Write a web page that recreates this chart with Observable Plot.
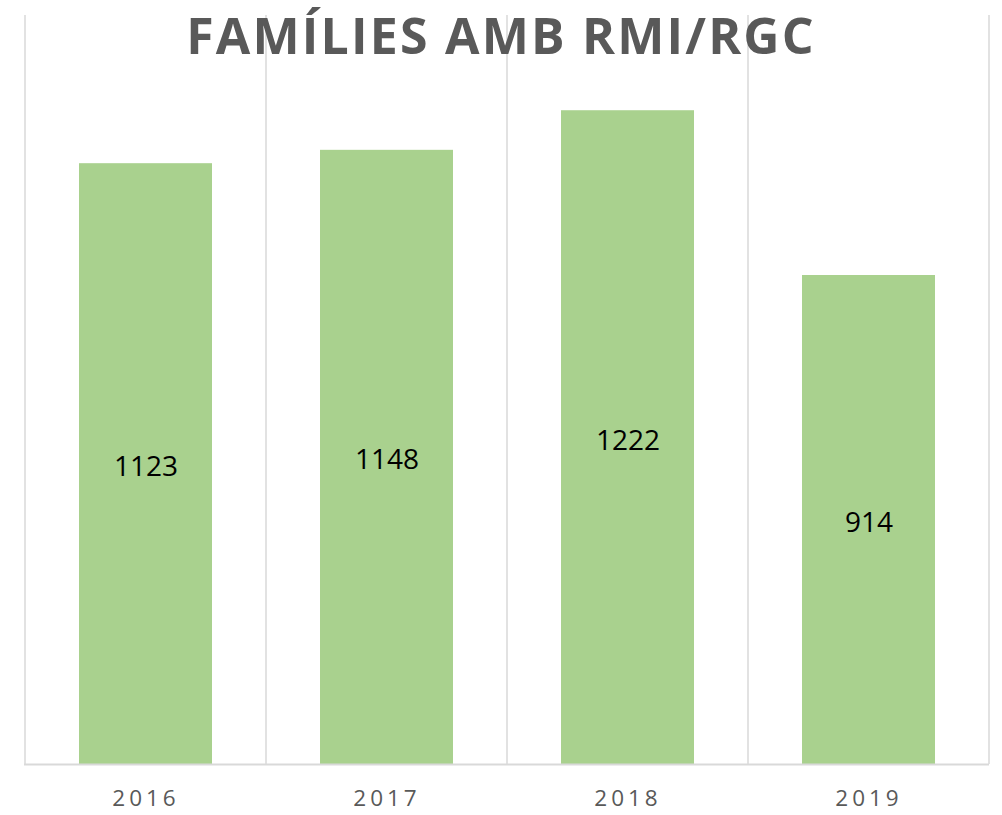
<!DOCTYPE html>
<html>
<head>
<meta charset="utf-8">
<script src="https://cdn.jsdelivr.net/npm/d3@7"></script>
<script src="https://cdn.jsdelivr.net/npm/@observablehq/plot@0.6"></script>
<style>
  html, body { margin: 0; padding: 0; background: #fff; }
  #wrap { position: relative; width: 1002px; height: 815px; overflow: hidden; }
  #title {
    position: absolute; left: 0; top: 5px; width: 1002px; text-align: center;
    font-family: "Open Sans", sans-serif; font-weight: 700; font-size: 50px;
    letter-spacing: 2.2px; color: #595959; line-height: 60px; z-index: 2;
  }
  #chart { position: absolute; left: 0; top: 0; }
</style>
</head>
<body>
<div id="wrap">
  <div id="chart"></div>
  <div id="title">FAMÍLIES AMB RMI/RGC</div>
</div>
<script>
const years = ["2016", "2017", "2018", "2019"];
const families = [1123, 1148, 1222, 914];
const data = years.map((year, i) => ({ year, value: families[i] }));

// vertical category separators drawn from the band scale
const separators = (index, scales, values, dims) => {
  const x = scales.x;
  const step = x.step ? x.step() : (dims.width - dims.marginLeft - dims.marginRight) / years.length;
  const g = d3.create("svg:g");
  const domain = x.domain();
  const edges = domain.map(d => x(d) - (step - x.bandwidth()) / 2);
  edges.push(edges[edges.length - 1] + step);
  for (const e of edges) {
    g.append("line")
      .attr("x1", e).attr("x2", e)
      .attr("y1", dims.marginTop).attr("y2", dims.height - dims.marginBottom)
      .attr("stroke", "#d9d9d9").attr("stroke-width", 1.5);
  }
  return g.node();
};

const chart = Plot.plot({
  width: 1002,
  height: 815,
  marginLeft: 24,
  marginRight: 13,
  marginTop: 15,
  marginBottom: 51,
  style: { fontFamily: "'Open Sans', sans-serif", background: "#fff" },
  x: { domain: years, paddingInner: 0.45, paddingOuter: 0.225, label: null },
  y: { domain: [0, 1400], axis: null },
  marks: [
    separators,
    Plot.barY(data, { x: "year", y: "value", fill: "#a9d18e" }),
    Plot.ruleY([0], { stroke: "#d9d9d9", strokeWidth: 2 }),
    Plot.text(data, {
      x: "year", y: d => d.value / 2, text: d => String(d.value),
      fill: "#000", fontSize: 28, dy: 3
    }),
    Plot.axisX({
      tickSize: 0, tickPadding: 26, fontSize: 22.5, color: "#595959",
      fill: "#595959", label: null
    })
  ]
});
chart.querySelectorAll("[aria-label='x-axis tick label'] text").forEach(t => t.setAttribute("letter-spacing", "4"));
document.getElementById("chart").appendChild(chart);
</script>
</body>
</html>
